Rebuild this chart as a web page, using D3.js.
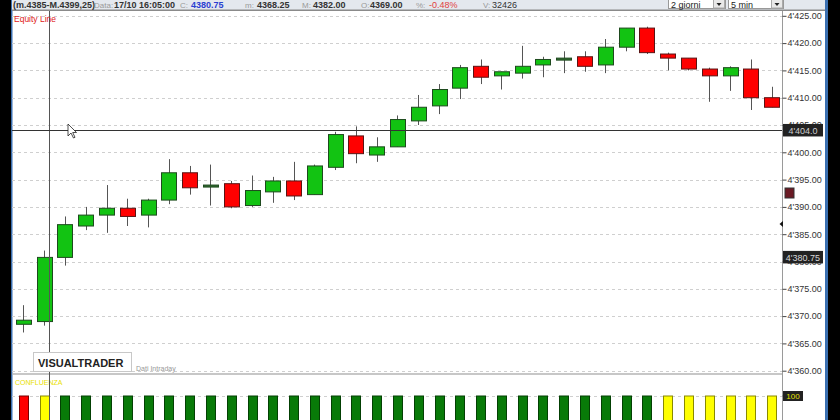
<!DOCTYPE html>
<html>
<head>
<meta charset="utf-8">
<script src="https://cdn.jsdelivr.net/npm/d3@7"></script>
<style>
  body { margin: 0; background: #000; }
  svg { display: block; }
  text { font-family: "Liberation Sans", Arial, sans-serif; }
</style>
</head>
<body>
<div id="chart"></div>
<script>
// 5 min candles
var opens  = [4368.5, 4369, 4380.75, 4386.5, 4388.5, 4389.75, 4388.5, 4391.25, 4396.25, 4394,
              4394.25, 4390.25, 4392.75, 4394.75, 4392.25, 4397.25, 4403, 4399.5, 4401, 4405.75,
              4408.5, 4411.75, 4415.75, 4414, 4414.5, 4416, 4417, 4417.5, 4416, 4419.25,
              4422.75, 4418, 4417.25, 4415.25, 4414, 4415.25, 4410];
var closes = [4369.25, 4380.75, 4386.75, 4388.5, 4389.75, 4388.25, 4391.25, 4396.25, 4393.5, 4394,
              4390, 4393, 4394.75, 4392, 4397.5, 4403.25, 4399.75, 4401, 4406, 4408.25,
              4411.5, 4415.5, 4413.75, 4414.75, 4415.75, 4417, 4417.25, 4415.75, 4419.25, 4422.75,
              4418.25, 4417.25, 4415.25, 4414, 4415.5, 4410, 4408.25];
var highs  = [4372, 4382, 4388.25, 4390, 4394, 4391.5, 4391.5, 4398.75, 4397.5, 4397.75,
              4394.75, 4395.75, 4395.5, 4398.25, 4397.75, 4403.75, 4404.75, 4402.75, 4406.75, 4410.5,
              4412.5, 4416, 4417, 4414.75, 4419.5, 4417.5, 4418.5, 4418.5, 4420.75, 4422.75,
              4423, 4418.25, 4417.25, 4415.5, 4415.75, 4417, 4412];
var lows   = [4367, 4368.25, 4379.25, 4385.75, 4385.25, 4386.5, 4386.25, 4390.5, 4392.25, 4390.25,
              4389.75, 4390, 4390.75, 4391.25, 4392.25, 4396.75, 4398, 4398.25, 4401, 4405,
              4407, 4409.75, 4412.5, 4411.5, 4413.5, 4413.75, 4414.5, 4414.75, 4414.5, 4418.5,
              4418, 4415, 4415, 4409.25, 4411.25, 4407.75, 4408.25];
// confluenza indicator: r = red, y = yellow, g = green
var confluenza = ["r","y","g","g","g","g","g","g","g","g","g","g","g","g","g","g","g","g","g","g",
                  "g","g","g","g","g","g","g","g","g","g","g","y","y","y","y","y","y"];
var yTicks = [4360, 4365, 4370, 4375, 4380, 4385, 4390, 4395, 4400, 4405, 4410, 4415, 4420, 4425];
var crossPrice = 4404.0, lastClose = 4380.75;

var width = 840, height = 420;
var svg = d3.select("#chart").append("svg")
            .attr("width", width)
            .attr("height", height);

// background panels
svg.append("rect").attr("x", 12).attr("y", 0).attr("width", 814).attr("height", height).attr("fill", "#fff");
svg.append("rect").attr("x", 11).attr("y", 0).attr("width", 1.5).attr("height", height).attr("fill", "#3a6fb0");
svg.append("rect").attr("x", 825).attr("y", 0).attr("width", 3).attr("height", height).attr("fill", "#3a6fb0");

var x = d3.scaleBand().domain(d3.range(opens.length)).range([13, 782]);
var y = d3.scaleLinear().domain([4360, 4425]).range([370.7, 15.8]);
var yc = d3.scaleLinear().domain([0, 100]).range([420, 396]);
var cx = function(i){ return x(i) + x.bandwidth()/2; };

// grid
svg.append("g").selectAll("line").data(yTicks).enter().append("line")
   .attr("x1", 12).attr("x2", 782)
   .attr("y1", function(d){ return Math.round(y(d)) + 0.5; })
   .attr("y2", function(d){ return Math.round(y(d)) + 0.5; })
   .attr("stroke", "#cfcfcf").attr("stroke-dasharray", "3,3");

// panel separator + indicator 100 line
svg.append("line").attr("x1", 12).attr("x2", 782).attr("y1", 374).attr("y2", 374)
   .attr("stroke", "#b4b4b4").attr("stroke-width", 1.5);
svg.append("line").attr("x1", 12).attr("x2", 782).attr("y1", yc(100)+0.5).attr("y2", yc(100)+0.5)
   .attr("stroke", "#cfcfcf").attr("stroke-dasharray", "3,3");

// axis
var fmt = function(v){ return Math.floor(v/1000) + "'" + d3.format("06.2f")(v % 1000); };
var axis = svg.append("g").attr("transform", "translate(782.5,0)")
   .call(d3.axisRight(y).tickValues(yTicks).tickSize(4).tickPadding(1).tickFormat(fmt));
axis.select(".domain").attr("stroke", "#9a9a9a").attr("d", "M0,10V374");
axis.selectAll(".tick line").attr("stroke", "#444");
axis.selectAll("text").attr("fill", "#333").style("font-size", "9px");
svg.append("line").attr("x1", 782.5).attr("x2", 782.5).attr("y1", 374).attr("y2", 420).attr("stroke", "#9a9a9a");
svg.append("line").attr("x1", 782.5).attr("x2", 786).attr("y1", yc(100)).attr("y2", yc(100)).attr("stroke", "#444");

// candles
var idx = d3.range(opens.length);
var bw = 15;
var candles = svg.append("g").selectAll("g").data(idx).enter().append("g");
candles.append("line")
   .attr("x1", function(i){ return Math.round(cx(i)) + 0.5; })
   .attr("x2", function(i){ return Math.round(cx(i)) + 0.5; })
   .attr("y1", function(i){ return y(highs[i]); })
   .attr("y2", function(i){ return y(lows[i]); })
   .attr("stroke", "#555");
candles.append("rect")
   .attr("x", function(i){ return Math.round(cx(i) - bw/2) + 0.5; })
   .attr("width", bw)
   .attr("y", function(i){ return y(Math.max(opens[i], closes[i])); })
   .attr("height", function(i){ return Math.max(2, Math.abs(y(opens[i]) - y(closes[i]))); })
   .attr("fill", function(i){
      if (Math.abs(closes[i] - opens[i]) < 0.3) return "#2f6a2f";
      return closes[i] >= opens[i] ? "#12c312" : "#ff0000";
   })
   .attr("stroke", function(i){ return closes[i] >= opens[i] ? "#1e4a1e" : "#5a1414"; })
   .attr("stroke-width", 1);

// confluenza bars
var confFill = { r: "#ff0000", y: "#ffff00", g: "#087a08" };
var confStroke = { r: "#7a0000", y: "#8a8a00", g: "#034003" };
svg.append("g").selectAll("rect").data(idx).enter().append("rect")
   .attr("x", function(i){ return Math.round(cx(i) - 4.5) + 0.5; })
   .attr("width", 9)
   .attr("y", yc(100))
   .attr("height", yc(0) - yc(100) + 4)
   .attr("fill", function(i){ return confFill[confluenza[i]]; })
   .attr("stroke", function(i){ return confStroke[confluenza[i]]; });

svg.append("text").attr("x", 15).attr("y", 385).text("CONFLUENZA")
   .attr("fill", "#e8e000").style("font-size", "7px");

// crosshair
var chX = Math.round(cx(1)) + 5.5;
svg.append("line").attr("x1", chX).attr("x2", chX).attr("y1", 10).attr("y2", 420).attr("stroke", "#555");
svg.append("line").attr("x1", 12).attr("x2", 782).attr("y1", Math.round(y(crossPrice)) + 0.5)
   .attr("y2", Math.round(y(crossPrice)) + 0.5).attr("stroke", "#333");

// value boxes on the axis
function tag(yy, label, col) {
  svg.append("rect").attr("x", 783).attr("y", yy - 6.5).attr("width", 40).attr("height", 12.5).attr("fill", "#222");
  svg.append("text").attr("x", 803).attr("y", yy + 3.3).attr("text-anchor", "middle")
     .attr("fill", col).style("font-size", "9px").text(label);
}
tag(y(crossPrice), "4'404.0", "#cfcfcf");
tag(y(lastClose), fmt(lastClose), "#d8d8d8");
svg.append("rect").attr("x", 783).attr("y", yc(100) - 5).attr("width", 20).attr("height", 10).attr("fill", "#222");
svg.append("text").attr("x", 793).attr("y", yc(100) + 3).attr("text-anchor", "middle")
   .attr("fill", "#e8e000").style("font-size", "8px").text("100");
svg.append("rect").attr("x", 785).attr("y", 188).attr("width", 9).attr("height", 10)
   .attr("fill", "#6a1a24").attr("stroke", "#333");
svg.append("path").attr("d", "M783,221L779.5,224L783,227Z").attr("fill", "#111");

// mouse cursor
svg.append("path").attr("d", "M68,124L68,136L71,133L73.5,138L75,137.3L72.7,132.5L76.5,132.5Z")
   .attr("fill", "#fff").attr("stroke", "#222").attr("stroke-width", 0.8);

// logo
svg.append("rect").attr("x", 33.5).attr("y", 352.5).attr("width", 98).attr("height", 19)
   .attr("fill", "#fff").attr("stroke", "#c8c8c8");
svg.append("text").attr("x", 38).attr("y", 367).text("VISUALTRADER")
   .attr("fill", "#222").style("font-size", "11px").style("font-weight", "bold");
svg.append("text").attr("x", 136).attr("y", 371).text("Dati Intraday")
   .attr("fill", "#999").style("font-size", "7px");
svg.append("text").attr("x", 14).attr("y", 22).text("Equity Line")
   .attr("fill", "#e02020").style("font-size", "8.5px");

// header bar
svg.append("rect").attr("x", 12).attr("y", 0).attr("width", 813).attr("height", 10).attr("fill", "#e4e8ee");
svg.append("rect").attr("x", 12).attr("y", 9.5).attr("width", 813).attr("height", 1.5).attr("fill", "#8a8a8a");
var head = [
  [13, "(m.4385-M.4399,25)", "#333", "bold"], [94, "Data:", "#999", "normal"],
  [114, "17/10 16:05:00", "#333", "bold"], [180, "C:", "#999", "normal"],
  [191, "4380.75", "#2a3fd0", "bold"], [245, "m:", "#999", "normal"],
  [257, "4368.25", "#333", "bold"], [302, "M:", "#999", "normal"],
  [313, "4382.00", "#333", "bold"], [361, "O:", "#999", "normal"],
  [370, "4369.00", "#333", "bold"], [416, "%:", "#999", "normal"],
  [429, "-0.48%", "#e04040", "normal"], [483, "V:", "#999", "normal"],
  [492, "32426", "#333", "normal"]
];
svg.append("g").selectAll("text").data(head).enter().append("text")
   .attr("x", function(d){ return d[0]; }).attr("y", 7.5)
   .attr("fill", function(d){ return d[2]; })
   .style("font-weight", function(d){ return d[3]; })
   .style("font-size", function(d){ return d[2] === "#999" ? "8px" : "9px"; })
   .text(function(d){ return d[1]; });

function combo(x0, w, label) {
  svg.append("rect").attr("x", x0 + 0.5).attr("y", -2).attr("width", w).attr("height", 10.5)
     .attr("fill", "#fff").attr("stroke", "#999");
  svg.append("text").attr("x", x0 + 3).attr("y", 7.5).text(label).attr("fill", "#222").style("font-size", "9px");
  svg.append("rect").attr("x", x0 + w - 11.5).attr("y", -1).attr("width", 11).attr("height", 9)
     .attr("fill", "#e8e8e8").attr("stroke", "#aaa");
  svg.append("path").attr("d", "M" + (x0 + w - 8.5) + ",3L" + (x0 + w - 3.5) + ",3L" + (x0 + w - 6) + ",6Z").attr("fill", "#222");
}
combo(668, 57, "2 giorni");
combo(728, 55, "5 min");
</script>
</body>
</html>
